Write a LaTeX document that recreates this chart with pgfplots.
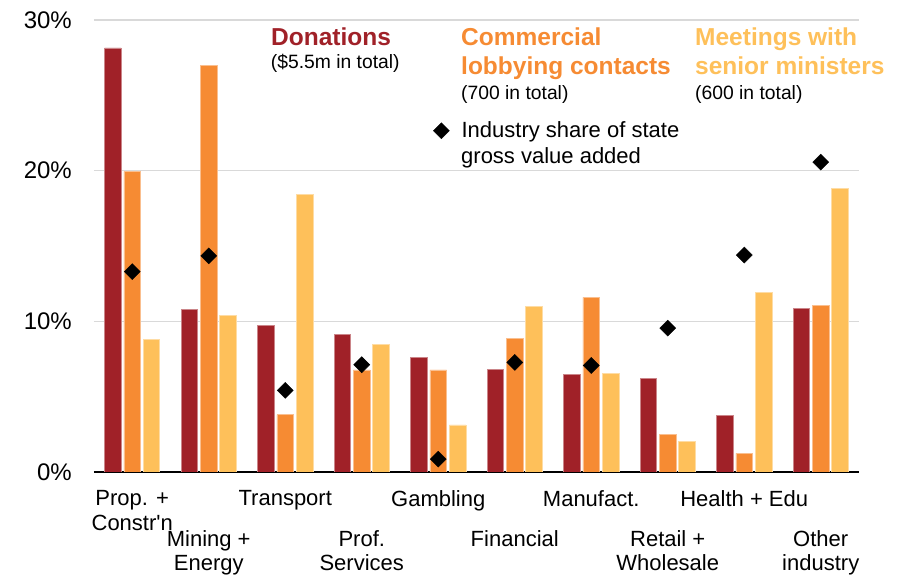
\documentclass[border=0pt]{standalone}
\usepackage{pgfplots}
\usepackage{pgfplotstable}
\pgfplotsset{compat=1.18}
\usepackage{fontspec}
\setmainfont{Liberation Sans}
\definecolor{don}{HTML}{A02128}
\definecolor{com}{HTML}{F68B33}
\definecolor{mee}{HTML}{FEC05A}
\definecolor{grd}{HTML}{D9D9D9}

\pgfplotstableread{
x don com mee gva
0 28.15 19.95 8.78 13.3
1 10.77 27.0 10.37 14.35
2 9.71 3.8 18.4 5.42
3 9.13 6.77 8.47 7.12
4 7.6 6.77 3.12 0.86
5 6.83 8.89 10.99 7.27
6 6.46 11.59 6.57 7.07
7 6.19 2.52 2.01 9.55
8 3.76 1.24 11.94 14.4
9 10.88 11.03 18.84 20.57
}\datatable

\begin{document}
\begin{tikzpicture}
\useasboundingbox (-94pt,-103pt) rectangle (812pt,472pt);
\begin{axis}[
 scale only axis, width=765pt, height=452pt,
 xmin=-0.5, xmax=9.5, ymin=0, ymax=30,
 axis x line*=bottom, axis y line*=left,
 x axis line style={-, black, line width=1.2pt},
 y axis line style={draw=none},
 ytick={0,10,20,30}, yticklabels={0\%,10\%,20\%,30\%},
 ymajorgrids, major grid style={grd, line width=1.2pt},
 major tick length=0pt,
 yticklabel style={font=\fontsize{24}{28}\selectfont, anchor=east, inner sep=0pt, xshift=-22pt},
 xtick={0,2,4,6,8},
 xticklabels={{Prop. +\\Constr\textquotesingle n}, Transport, Gambling, Manufact., Health + Edu},
 xticklabel style={font=\fontsize{22}{24.7}\selectfont, align=center, anchor=north, inner sep=0pt, yshift=-18pt},
 extra x ticks={1,3,5,7,9},
 extra x tick labels={{Mining +\\Energy},{Prof.\\Services},Financial,{Retail +\\Wholesale},{Other\\industry}},
 extra x tick style={xticklabel style={yshift=-40pt}},
 legend style={at={(axis cs:3.9314,22.65)}, anchor=west, draw=none, fill=none, inner sep=0pt,
   font=\fontsize{22}{26}\selectfont, nodes={inner sep=0pt}, column sep=12pt},
 legend cell align=left,
]
\addlegendimage{legend image code/.code={\fill[black, rotate=45] (-5.66pt,-5.66pt) rectangle (5.66pt,5.66pt);}}
\addlegendentry{Industry share of state}
\addplot[ybar, bar width=16.6pt, bar shift=-19.3pt, fill=don, draw=don!55!white, line width=0.7pt] table[x=x,y=don]{\datatable};
\addplot[ybar, bar width=16.6pt, bar shift=0pt, fill=com, draw=com!55!white, line width=0.7pt] table[x=x,y=com]{\datatable};
\addplot[ybar, bar width=16.6pt, bar shift=19.3pt, fill=mee, draw=mee!55!white, line width=0.7pt] table[x=x,y=mee]{\datatable};
\addplot[only marks, mark=square*, mark size=5.66pt, mark options={rotate=45, fill=black, draw=black}] table[x=x,y=gva]{\datatable};
\end{axis}
\begin{scope}[every node/.style={anchor=base west, inner sep=0pt}]
\node[font=\fontsize{24.5}{28}\selectfont\bfseries, text=don] at (177pt,426pt) {Donations};
\node[font=\fontsize{19.3}{22}\selectfont] at (176.7pt,403.7pt) {(\$5.5m in total)};
\node[font=\fontsize{24.5}{28}\selectfont\bfseries, text=com] at (367pt,426pt) {Commercial};
\node[font=\fontsize{24.5}{28}\selectfont\bfseries, text=com] at (367pt,397pt) {lobbying contacts};
\node[font=\fontsize{19.3}{22}\selectfont] at (367pt,372.7pt) {(700 in total)};
\node[font=\fontsize{24.5}{28}\selectfont\bfseries, text=mee] at (601pt,426pt) {Meetings with};
\node[font=\fontsize{24.5}{28}\selectfont\bfseries, text=mee] at (601pt,397pt) {senior ministers};
\node[font=\fontsize{19.3}{22}\selectfont] at (601pt,372.7pt) {(600 in total)};
\node[font=\fontsize{22}{26}\selectfont] at (367pt,308pt) {gross value added};
\end{scope}
\end{tikzpicture}
\end{document}
